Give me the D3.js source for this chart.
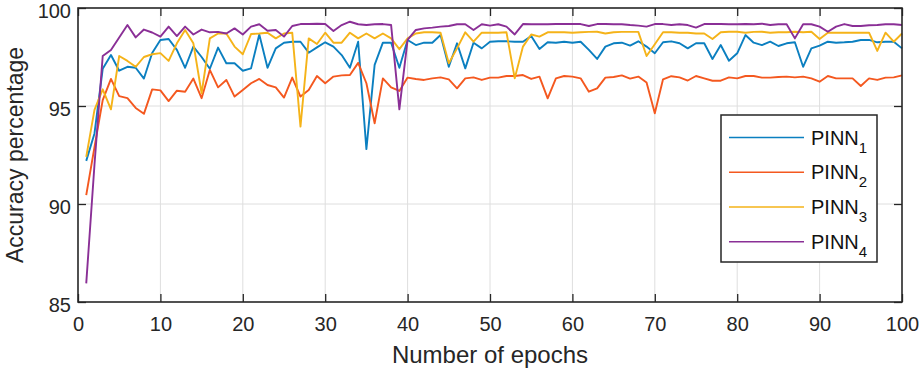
<!DOCTYPE html>
<html>
<head>
<meta charset="utf-8">
<script src="https://cdn.jsdelivr.net/npm/d3@7"></script>
<style>
    body { margin: 0; background: #fff; }
    svg { display: block; font-family: "Liberation Sans", Arial, sans-serif; }
    .axis text { fill: #262626; font-size: 20px; }
    .axis path, .axis line { stroke: #262626; }
    .grid line { stroke: #dedede; stroke-width: 1; }
</style>
</head>
<body>
<div id="chart"></div>
<script>
// Accuracy per epoch
const pinn1 = [92.2, 93.6, 96.9, 97.6, 96.8, 97.0, 96.95, 96.4, 97.7, 98.37,
    98.42, 97.86, 96.95, 98.03, 97.5, 96.9, 97.98, 97.18, 97.18, 96.8,
    96.92, 98.65, 96.95, 97.94, 98.23, 98.28, 98.28, 97.72, 97.99, 98.25,
    98.03, 97.6, 96.95, 98.28, 92.8, 97.1, 98.23, 98.23, 96.95, 98.37,
    98.11, 98.23, 98.23, 98.62, 97.0, 98.2, 96.92, 98.23, 97.94, 98.28,
    98.3, 98.3, 98.28, 98.28, 98.57, 97.91, 98.25, 98.23, 98.28, 98.23,
    98.28, 97.86, 97.4, 98.03, 98.2, 98.23, 98.08, 98.3, 98.03, 97.69,
    98.25, 98.3, 98.2, 97.94, 98.2, 98.2, 97.4, 98.11, 97.31, 97.69,
    98.62, 98.23, 98.11, 98.28, 98.06, 98.2, 98.25, 97.0, 97.94, 98.08,
    98.28, 98.23, 98.25, 98.28, 98.37, 98.37, 98.25, 98.28, 98.28, 97.94];

const pinn2 = [90.45, 92.9, 95.3, 96.38, 95.5, 95.4, 94.9, 94.6, 95.85, 95.8,
    95.25, 95.78, 95.73, 96.4, 95.4, 96.84, 95.95, 96.33, 95.48, 95.82,
    96.16, 96.38, 96.07, 95.95, 95.43, 96.45, 95.48, 95.82, 96.53, 96.16,
    96.5, 96.56, 96.58, 97.2, 96.16, 94.12, 96.41, 95.95, 95.77, 96.45,
    96.38, 96.33, 96.41, 96.46, 96.36, 95.9, 96.41, 96.46, 96.33, 96.45,
    96.45, 96.53, 96.53, 96.58, 96.38, 96.5, 95.39, 96.41, 96.53, 96.5,
    96.41, 95.73, 95.9, 96.45, 96.48, 96.56, 96.4, 96.5, 96.2, 94.63,
    96.36, 96.52, 96.46, 96.3, 96.53, 96.41, 96.29, 96.29, 96.46, 96.41,
    96.53, 96.53, 96.45, 96.45, 96.48, 96.5, 96.46, 96.5, 96.41, 96.24,
    96.53, 96.41, 96.41, 96.41, 96.02, 96.41, 96.33, 96.45, 96.46, 96.56];

const pinn3 = [92.4, 94.8, 95.85, 94.83, 97.55, 97.3, 97.0, 97.5, 97.64, 97.7,
    97.3, 98.2, 98.88, 98.2, 95.65, 98.45, 98.7, 98.7, 98.03, 97.64,
    98.67, 98.7, 98.74, 98.45, 98.7, 98.74, 93.95, 98.45, 98.16, 98.74,
    98.23, 98.23, 98.74, 98.45, 98.7, 98.45, 98.7, 98.45, 97.9, 98.45,
    98.7, 98.76, 98.76, 98.74, 97.18, 97.94, 98.76, 98.28, 98.74, 98.74,
    98.74, 98.76, 96.41, 98.03, 98.65, 98.54, 98.76, 98.76, 98.76, 98.74,
    98.76, 98.78, 98.79, 98.7, 98.76, 98.78, 98.78, 98.78, 97.55, 98.15,
    98.76, 98.76, 98.74, 98.74, 98.7, 98.7, 98.42, 98.76, 98.79, 98.79,
    98.74, 98.78, 98.79, 98.74, 98.76, 98.76, 98.79, 98.76, 98.79, 98.42,
    98.74, 98.74, 98.74, 98.74, 98.74, 98.74, 97.81, 98.74, 98.28, 98.7];

const pinn4 = [85.95, 92.0, 97.55, 97.86, 98.5, 99.13, 98.5, 98.9, 98.75, 98.54,
    99.05, 98.57, 99.05, 98.65, 98.9, 98.76, 98.78, 98.7, 98.96, 98.65,
    99.05, 99.17, 98.84, 98.88, 98.54, 99.08, 99.18, 99.18, 99.2, 99.18,
    98.83, 99.13, 99.3, 99.17, 99.13, 99.17, 99.18, 99.13, 94.83, 98.37,
    98.88, 98.96, 99.0, 99.05, 99.08, 99.17, 99.17, 98.88, 99.17, 99.1,
    99.17, 99.05, 98.65, 99.18, 99.17, 99.17, 99.17, 99.18, 99.18, 99.18,
    99.18, 99.08, 99.18, 99.18, 99.17, 99.17, 99.13, 99.1, 99.05, 99.18,
    99.18, 99.13, 99.17, 99.13, 99.0, 99.18, 99.18, 99.18, 99.17, 99.17,
    99.18, 99.17, 99.2, 99.13, 99.17, 99.17, 98.45, 99.17, 99.17, 99.05,
    98.79, 99.05, 99.18, 99.08, 99.08, 99.12, 99.13, 99.17, 99.17, 99.13];

const epochs = d3.range(1, pinn1.length + 1);
const xTicks = [0, 10, 20, 30, 40, 50, 60, 70, 80, 90, 100];
const yTicks = [85, 90, 95, 100];
const seriesNames = ['1', '2', '3', '4'];   // subscripts of PINN
const seriesColors = ['#0b7fc0', '#f4581f', '#f5b319', '#8a2f96'];

const series = [pinn1, pinn2, pinn3, pinn4].map((vals, i) => ({
    sub: seriesNames[i],
    color: seriesColors[i],
    values: vals.map((v, j) => ({ epoch: epochs[j], acc: v }))
}));

const W = 920, H = 372;
const margin = { top: 8, right: 18, bottom: 70, left: 78 };
const width = W - margin.left - margin.right;
const height = H - margin.top - margin.bottom;

const svg = d3.select('#chart').append('svg')
    .attr('width', W)
    .attr('height', H);

const g = svg.append('g')
    .attr('transform', `translate(${margin.left},${margin.top})`);

const x = d3.scaleLinear().domain([0, 100]).range([0, width]);
const y = d3.scaleLinear().domain([85, 100]).range([height, 0]);

// grid lines
g.append('g')
    .attr('class', 'grid')
    .selectAll('line.gx')
    .data(xTicks.slice(1, -1))
    .enter().append('line')
    .attr('x1', d => x(d)).attr('x2', d => x(d))
    .attr('y1', 0).attr('y2', height);

g.select('.grid')
    .selectAll('line.gy')
    .data(yTicks.slice(1, -1))
    .enter().append('line')
    .attr('x1', 0).attr('x2', width)
    .attr('y1', d => y(d)).attr('y2', d => y(d));

// lines
const line = d3.line()
    .x(d => x(d.epoch))
    .y(d => y(d.acc));

g.selectAll('.series')
    .data(series)
    .enter().append('path')
    .attr('class', 'series')
    .attr('fill', 'none')
    .attr('stroke', d => d.color)
    .attr('stroke-width', 1.9)
    .attr('stroke-linejoin', 'round')
    .attr('d', d => line(d.values));

// axes, ticks pointing inward on all four sides
const tickLen = 8;
g.append('g')
    .attr('class', 'axis')
    .attr('transform', `translate(0,${height})`)
    .call(d3.axisBottom(x).tickValues(xTicks).tickSizeInner(-tickLen).tickSizeOuter(0).tickPadding(15));

g.append('g')
    .attr('class', 'axis')
    .call(d3.axisTop(x).tickValues(xTicks).tickSizeInner(-tickLen).tickSizeOuter(0).tickFormat(''));

g.append('g')
    .attr('class', 'axis ylab')
    .call(d3.axisLeft(y).tickValues(yTicks).tickSizeInner(-tickLen).tickSizeOuter(0).tickPadding(7));

g.selectAll('.ylab text').attr('dy', '0.45em');

g.append('g')
    .attr('class', 'axis')
    .attr('transform', `translate(${width},0)`)
    .call(d3.axisRight(y).tickValues(yTicks).tickSizeInner(-tickLen).tickSizeOuter(0).tickFormat(''));

g.selectAll('.axis line').attr('stroke-width', 1.3);
g.selectAll('.axis .domain').remove();

// frame
g.append('rect')
    .attr('width', width)
    .attr('height', height)
    .attr('fill', 'none')
    .attr('stroke', '#262626')
    .attr('stroke-width', 1.6);

// axis titles
svg.append('text')
    .attr('x', margin.left + width / 2)
    .attr('y', 363)
    .attr('text-anchor', 'middle')
    .attr('fill', '#262626')
    .style('font-size', '24px')
    .text('Number of epochs');

svg.append('text')
    .attr('transform', `translate(23,${margin.top + height / 2}) rotate(-90)`)
    .attr('text-anchor', 'middle')
    .attr('fill', '#262626')
    .style('font-size', '23px')
    .text('Accuracy percentage');

// legend
const legend = svg.append('g')
    .attr('transform', 'translate(721,115)');

legend.append('rect')
    .attr('width', 156)
    .attr('height', 147)
    .attr('fill', '#fff')
    .attr('stroke', '#262626')
    .attr('stroke-width', 1.5);

const item = legend.selectAll('.item')
    .data(series)
    .enter().append('g')
    .attr('class', 'item')
    .attr('transform', (d, i) => `translate(0,${22.6 + i * 34.7})`);

item.append('line')
    .attr('x1', 8).attr('x2', 83)
    .attr('stroke', d => d.color)
    .attr('stroke-width', 1.5);

const label = item.append('text')
    .attr('x', 90)
    .attr('y', 7)
    .attr('fill', '#111')
    .style('font-size', '20px');
label.append('tspan').text('PINN');
label.append('tspan')
    .attr('dy', 8)
    .style('font-size', '15px')
    .text(d => d.sub);
</script>
</body>
</html>
